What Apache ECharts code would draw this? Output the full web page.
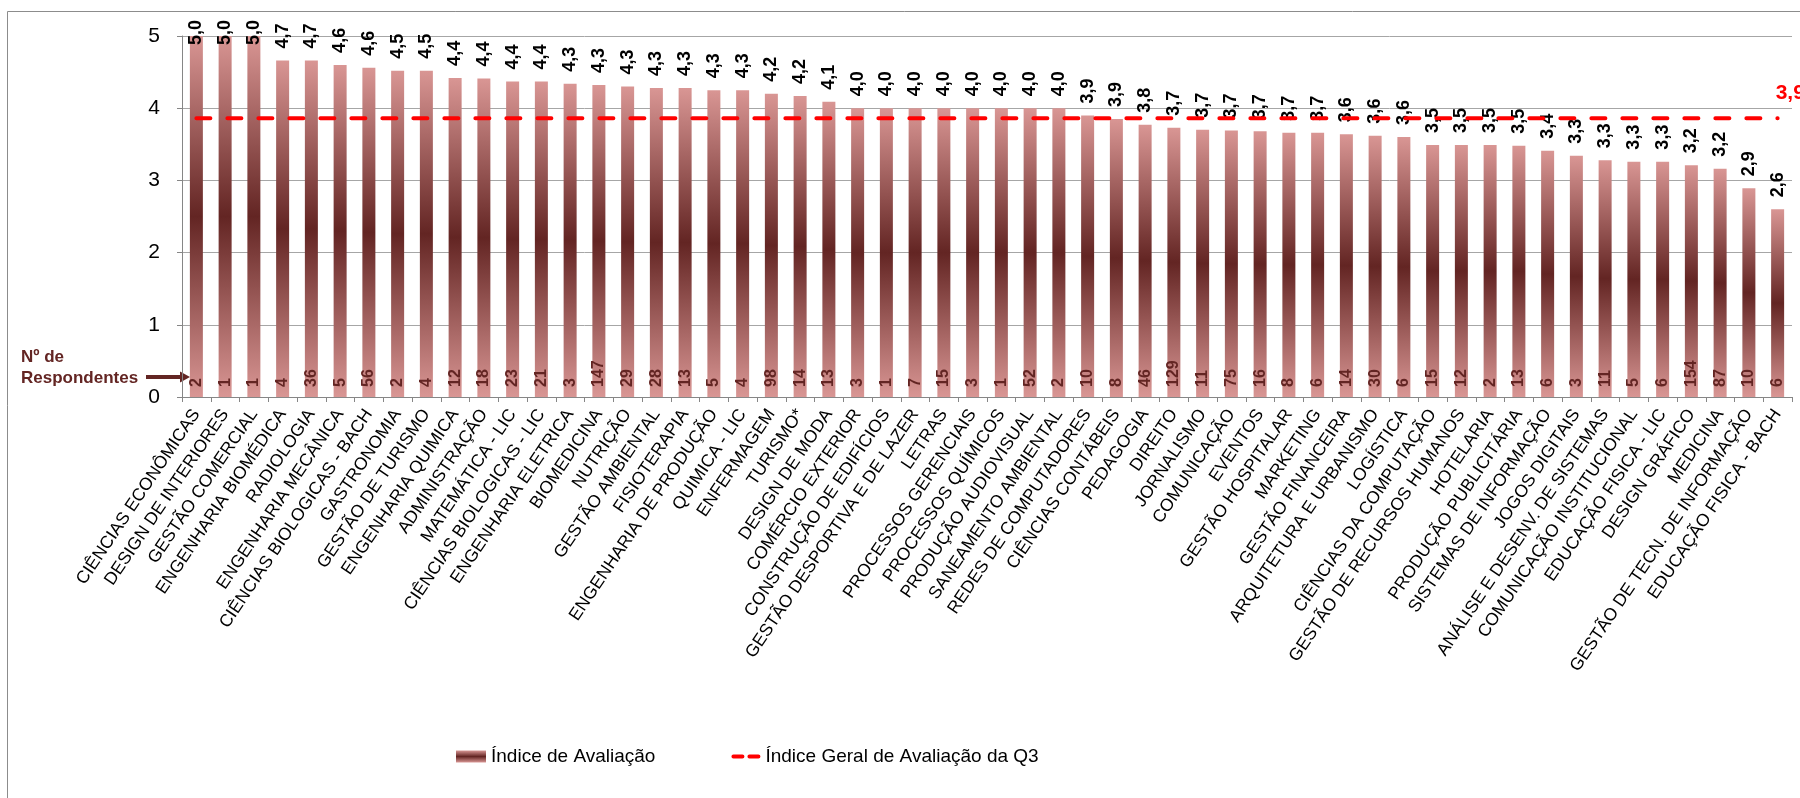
<!DOCTYPE html>
<html>
<head>
<meta charset="utf-8">
<script src="https://cdn.jsdelivr.net/npm/echarts@6/dist/echarts.min.js"></script>
<style>
html, body { margin: 0; padding: 0; background: #fff; }
#main { width: 1800px; height: 798px; }
</style>
</head>
<body>
<div id="main"></div>
<script>
// cursos avaliados (ordem do gráfico)
var cursos = [
    'CIÊNCIAS ECONÔMICAS', 'DESIGN DE INTERIORES', 'GESTÃO COMERCIAL', 'ENGENHARIA BIOMÉDICA',
    'RADIOLOGIA', 'ENGENHARIA MECÂNICA', 'CIÊNCIAS BIOLOGICAS - BACH', 'GASTRONOMIA',
    'GESTÃO DE TURISMO', 'ENGENHARIA QUIMICA', 'ADMINISTRAÇÃO', 'MATEMÁTICA - LIC',
    'CIÊNCIAS BIOLOGICAS - LIC', 'ENGENHARIA ELETRICA', 'BIOMEDICINA', 'NUTRIÇÃO',
    'GESTÃO AMBIENTAL', 'FISIOTERAPIA', 'ENGENHARIA DE PRODUÇÃO', 'QUIMICA - LIC',
    'ENFERMAGEM', 'TURISMO*', 'DESIGN DE MODA', 'COMÉRCIO EXTERIOR',
    'CONSTRUÇÃO DE EDIFÍCIOS', 'GESTÃO DESPORTIVA E DE LAZER', 'LETRAS', 'PROCESSOS GERENCIAIS',
    'PROCESSOS QUÍMICOS', 'PRODUÇÃO AUDIOVISUAL', 'SANEAMENTO AMBIENTAL', 'REDES DE COMPUTADORES',
    'CIÊNCIAS CONTÁBEIS', 'PEDAGOGIA', 'DIREITO', 'JORNALISMO',
    'COMUNICAÇÃO', 'EVENTOS', 'GESTÃO HOSPITALAR', 'MARKETING',
    'GESTÃO FINANCEIRA', 'ARQUITETURA E URBANISMO', 'LOGÍSTICA', 'CIÊNCIAS DA COMPUTAÇÃO',
    'GESTÃO DE RECURSOS HUMANOS', 'HOTELARIA', 'PRODUÇÃO PUBLICITÁRIA', 'SISTEMAS DE INFORMAÇÃO',
    'JOGOS DIGITAIS', 'ANÁLISE E DESENV. DE SISTEMAS', 'COMUNICAÇÃO INSTITUCIONAL', 'EDUCAÇÃO FISICA - LIC',
    'DESIGN GRÁFICO', 'MEDICINA', 'GESTÃO DE TECN. DE INFORMAÇÃO', 'EDUCAÇÃO FISICA - BACH'
];

// índice de avaliação (altura das barras)
var indice = [
    5.00, 5.00, 5.00, 4.66, 4.66, 4.60, 4.56, 4.52, 4.52, 4.42,
    4.41, 4.37, 4.37, 4.34, 4.32, 4.30, 4.28, 4.28, 4.25, 4.25,
    4.20, 4.17, 4.09, 4.00, 4.00, 4.00, 4.00, 4.00, 4.00, 4.00,
    4.00, 3.90, 3.85, 3.77, 3.73, 3.70, 3.69, 3.68, 3.66, 3.66,
    3.64, 3.62, 3.60, 3.49, 3.49, 3.49, 3.48, 3.41, 3.34, 3.28,
    3.26, 3.26, 3.21, 3.16, 2.89, 2.60
];

// nº de respondentes por curso
var respondentes = [
    2, 1, 1, 4, 36, 5, 56, 2, 4, 12,
    18, 23, 21, 3, 147, 29, 28, 13, 5, 4,
    98, 14, 13, 3, 1, 7, 15, 3, 1, 52,
    2, 10, 8, 46, 129, 11, 75, 16, 8, 6,
    14, 30, 6, 15, 12, 2, 13, 6, 3, 11,
    5, 6, 154, 87, 10, 6
];

// índice geral da Q3
var indiceGeral = 3.86;

var fonte = '"Liberation Sans", Arial, sans-serif';
var marrom = '#632523';

function fmt(v) {
    return v.toFixed(1).replace('.', ',');
}

var myChart = echarts.init(document.getElementById('main'));

var gradiente = new echarts.graphic.LinearGradient(0, 0, 0, 1, [
    {offset: 0, color: '#d99694'},
    {offset: 0.5, color: marrom},
    {offset: 1, color: '#d99694'}
]);

option = {
    backgroundColor: '#fff',
    animation: false,
    textStyle: {fontFamily: fonte},
    grid: {
        left: 182,
        right: 8,
        top: 36,
        bottom: 401
    },
    legend: {
        data: [
            {name: 'Índice de Avaliação', icon: 'rect'},
            {
                name: 'Índice Geral de Avaliação da Q3',
                // dois traços vermelhos
                icon: 'path://M0,0M30,12M3,4L12,4A2,2,0,0,1,12,8L3,8A2,2,0,0,1,3,4ZM19,4L28,4A2,2,0,0,1,28,8L19,8A2,2,0,0,1,19,4Z'
            }
        ],
        left: 451,
        top: 742,
        itemWidth: 30,
        itemHeight: 12,
        itemGap: 75,
        textStyle: {
            fontSize: 19,
            color: '#000',
            fontFamily: fonte
        }
    },
    xAxis: {
        type: 'category',
        data: cursos,
        axisLine: {lineStyle: {color: '#868686'}},
        axisTick: {show: true, length: 5, lineStyle: {color: '#868686'}},
        axisLabel: {
            interval: 0,
            rotate: 56,
            fontSize: 17.5,
            color: '#000',
            margin: 14
        }
    },
    yAxis: {
        type: 'value',
        min: 0,
        max: 5,
        interval: 1,
        axisLine: {show: true, lineStyle: {color: '#868686'}},
        axisTick: {show: true, length: 5, lineStyle: {color: '#868686'}},
        axisLabel: {fontSize: 21, color: '#000', margin: 22},
        splitLine: {lineStyle: {color: '#a6a6a6'}}
    },
    series: [
        {
            name: 'Índice de Avaliação',
            type: 'bar',
            barWidth: 13,
            data: indice.map(function (v) {
                // rótulos de 5,0 ficam dentro da área do gráfico
                return v > 4.9 ? {value: v, label: {distance: -9}} : v;
            }),
            itemStyle: {color: gradiente},
            label: {
                show: true,
                position: 'top',
                rotate: 90,
                align: 'left',
                verticalAlign: 'middle',
                distance: 12,
                fontSize: 18,
                fontWeight: 'bold',
                color: '#000',
                formatter: function (p) { return fmt(p.value); }
            },
            z: 2
        },
        {
            name: 'Nº de Respondentes',
            type: 'bar',
            barWidth: 13,
            barGap: '-100%',
            silent: true,
            data: indice,
            itemStyle: {color: 'rgba(0,0,0,0)'},
            label: {
                show: true,
                position: 'insideBottom',
                rotate: 90,
                align: 'left',
                verticalAlign: 'middle',
                distance: 10,
                fontSize: 16,
                fontWeight: 'bold',
                color: marrom,
                formatter: function (p) { return respondentes[p.dataIndex]; }
            },
            z: 3
        },
        {
            name: 'Índice Geral de Avaliação da Q3',
            type: 'line',
            data: cursos.map(function () { return indiceGeral; }),
            symbol: 'none',
            lineStyle: {
                color: '#ff0000',
                width: 4,
                type: [14, 17],
                cap: 'round'
            },
            itemStyle: {color: '#ff0000'},
            endLabel: {
                show: true,
                formatter: function (p) { return fmt(p.value); },
                color: '#ff0000',
                fontSize: 21,
                fontWeight: 'bold',
                offset: [-10, -25]
            },
            z: 4
        }
    ],
    graphic: [
        {
            type: 'rect',
            shape: {x: 7.5, y: 11.5, width: 1820, height: 820},
            style: {fill: 'none', stroke: '#8c8c8c', lineWidth: 1},
            silent: true
        },
        {
            type: 'text',
            left: 21,
            top: 347,
            style: {
                text: 'Nº de\nRespondentes',
                font: 'bold 17px ' + fonte,
                fill: marrom,
                lineHeight: 21
            }
        },
        {
            type: 'line',
            shape: {x1: 146, y1: 377, x2: 182, y2: 377},
            style: {stroke: marrom, lineWidth: 4}
        },
        {
            type: 'polygon',
            shape: {points: [[180, 371.5], [190, 377], [180, 382.5]]},
            style: {fill: marrom}
        }
    ]
};

myChart.setOption(option);
</script>
</body>
</html>
